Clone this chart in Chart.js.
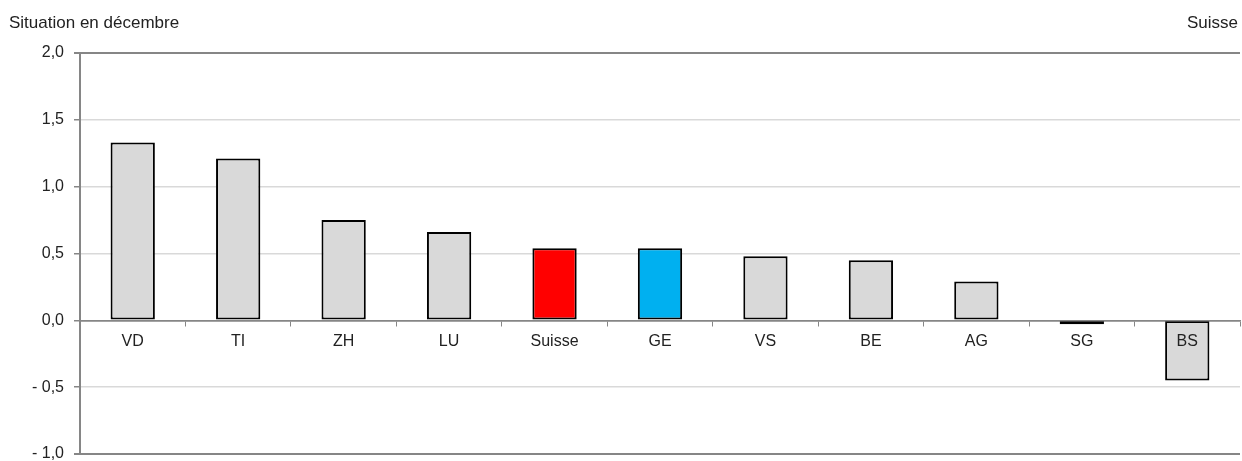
<!DOCTYPE html>
<html>
<head>
<meta charset="utf-8">
<script src="https://cdn.jsdelivr.net/npm/chart.js@4.4.1/dist/chart.umd.min.js"></script>
<style>
  html, body { margin: 0; padding: 0; background: #fff; }
  #wrap { width: 1242px; height: 461px; }
</style>
</head>
<body>
<div id="wrap"><canvas id="bar-chart"></canvas></div>
<script>
var cantons = ["VD", "TI", "ZH", "LU", "Suisse", "GE", "VS", "BE", "AG", "SG", "BS"];
var values = [1.33, 1.21, 0.75, 0.66, 0.54, 0.54, 0.48, 0.45, 0.29, -0.03, -0.45];
var yTicks = [-1, -0.5, 0, 0.5, 1, 1.5, 2];
var titleLeft = "Situation en décembre";
var titleRight = "Suisse";

var fontFamily = "'Liberation Sans', Arial, sans-serif";

var barColors = cantons.map(function (c) {
  if (c === "Suisse") return "#ff0000";
  if (c === "GE") return "#00b0f0";
  return "#d9d9d9";
});

function fmt(v) {
  var s = Math.abs(v).toFixed(1).replace(".", ",");
  return v < 0 ? "- " + s : s;
}

// header texts above the plot (left and right)
var headerText = {
  id: "headerText",
  afterDraw: function (chart) {
    var ctx = chart.ctx;
    ctx.save();
    ctx.font = "17px " + fontFamily;
    ctx.fillStyle = "#222";
    ctx.textBaseline = "middle";
    ctx.textAlign = "left";
    ctx.fillText(titleLeft, 9, 23);
    ctx.textAlign = "right";
    ctx.fillText(titleRight, 1238, 23);
    ctx.restore();
  }
};

new Chart(document.getElementById("bar-chart"), {
  type: "bar",
  data: {
    labels: cantons,
    datasets: [
      {
        label: "Situation en décembre",
        data: values,
        backgroundColor: barColors,
        borderColor: "#000",
        borderWidth: 2,
        borderSkipped: false,
        categoryPercentage: 1,
        barPercentage: 0.42
      }
    ]
  },
  plugins: [headerText],
  options: {
    responsive: true,
    maintainAspectRatio: false,
    animation: false,
    layout: {
      padding: { top: 53, right: 2, bottom: 7, left: 0 }
    },
    plugins: {
      legend: { display: false },
      tooltip: { enabled: false },
      title: { display: false }
    },
    scales: {
      x: {
        position: { y: 0 },
        afterFit: function (scale) {
          scale.height = 0;
          scale.paddingLeft = 0;
          scale.paddingRight = 0;
        },
        grid: {
          drawOnChartArea: false,
          drawTicks: true,
          tickLength: 5,
          color: "#868686",
          offset: true,
          z: 1
        },
        border: { display: true, color: "#868686", width: 1.5, z: 1 },
        ticks: {
          z: 1,
          padding: 7,
          color: "#222",
          font: { family: fontFamily, size: 16 }
        }
      },
      y: {
        min: -1,
        max: 2,
        afterBuildTicks: function (scale) {
          scale.ticks = yTicks.map(function (v) { return { value: v }; });
        },
        afterFit: function (scale) {
          scale.width = 80;
          scale.paddingTop = 0;
          scale.paddingBottom = 0;
        },
        grid: {
          color: function (ctx) {
            var v = ctx.tick ? ctx.tick.value : 0;
            return (v === 2 || v === -1 || v === 0) ? "#868686" : "#d9d9d9";
          },
          lineWidth: function (ctx) {
            var v = ctx.tick ? ctx.tick.value : 0;
            return (v === 2 || v === -1) ? 2 : 1.5;
          },
          tickColor: "#868686",
          tickLength: 6
        },
        border: { display: true, color: "#868686", width: 2 },
        ticks: {
          padding: 10,
          color: "#222",
          font: { family: fontFamily, size: 16 },
          callback: function (v) { return fmt(v); }
        }
      }
    }
  }
});
</script>
</body>
</html>
